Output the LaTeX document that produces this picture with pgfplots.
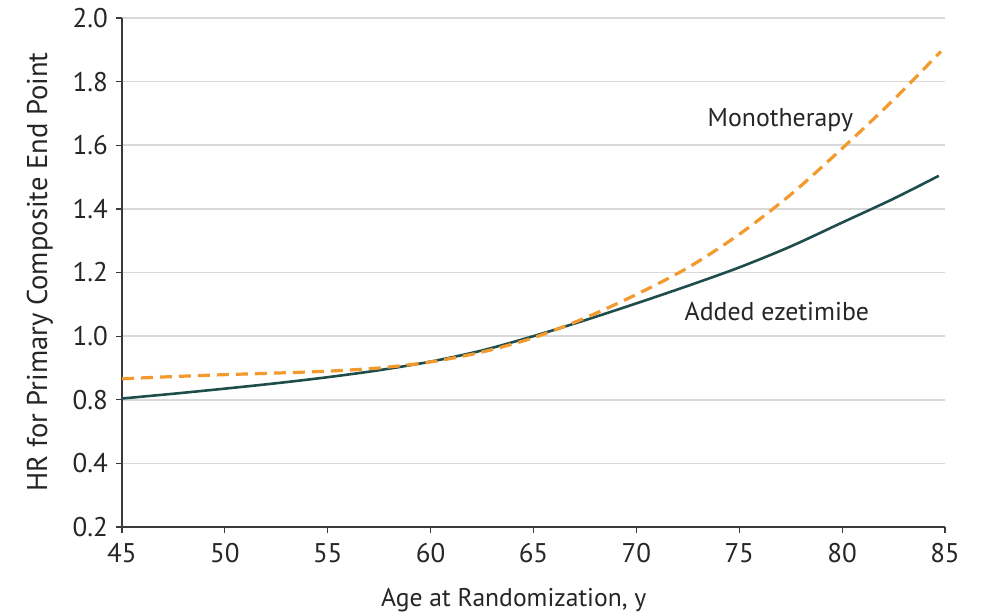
\documentclass[border=0pt]{standalone}
\usepackage{pgfplots}
\pgfplotsset{compat=1.18}
\usepackage{fontspec}
\setmainfont{PT Sans}
\definecolor{mono}{HTML}{F39A2E}
\definecolor{ezet}{HTML}{1E4D4B}
\definecolor{axgray}{HTML}{3A3A3A}
\begin{document}
\begin{tikzpicture}
\begin{axis}[
  scale only axis,
  width=411.5pt, height=254.5pt,
  xmin=45, xmax=85, ymin=0.4, ymax=2.0,
  xtick={45,50,...,85},
  ytick={0.4,0.6,0.8,1.0,1.2,1.4,1.6,1.8,2.0},
  yticklabels={0.2,0.4,0.8,1.0,1.2,1.4,1.6,1.8,2.0},
  axis x line*=bottom, axis y line*=left,
  axis line style={axgray, line width=0.6pt, -},
  tick align=outside, major tick length=3pt,
  tick style={axgray, line width=0.6pt},
  ymajorgrids, grid style={gray!30, line width=0.8pt},
  /pgf/number format/assume math mode=true,
  tick label style={font=\fontsize{13.5}{15}\selectfont, text=black!85},
  yticklabel style={xshift=-0.5pt},
  xticklabel style={yshift=-1.5pt},
  xlabel={Age at Randomization, y},
  ylabel={HR for Primary Composite End Point},
  xlabel style={font=\fontsize{12.8}{14}\selectfont, text=black!85, at={(rel axis cs:0.476,-0.143)}, anchor=center},
  ylabel style={font=\fontsize{14.3}{16}\selectfont, text=black!85, at={(rel axis cs:-0.0996,0.501)}, anchor=center},
  clip=false,
]
\addplot[ezet, line width=1.3pt, smooth] coordinates {
 (45,0.804) (47.5,0.819) (50,0.835) (52.5,0.852) (55,0.871) (57.5,0.893)
 (60,0.920) (62.5,0.955) (65,1.000) (67.5,1.050) (70,1.103) (72.5,1.158)
 (75,1.216) (77.5,1.282) (80,1.357) (82.5,1.432) (84.7,1.504)};
\addplot[mono, line width=1.6pt, dash pattern=on 6pt off 3.5pt, smooth] coordinates {
 (45,0.866) (47.5,0.873) (50,0.879) (52.5,0.884) (55,0.890) (57.5,0.900)
 (60,0.919) (62.5,0.950) (65,0.995) (67.5,1.057) (70,1.131) (72.5,1.215)
 (75,1.320) (77.5,1.445) (80,1.590) (82.5,1.743) (84.8,1.895)};
\node[font=\fontsize{12.9}{14}\selectfont, text=black!85] at (axis cs:77.0,1.68) {Monotherapy};
\node[font=\fontsize{12.9}{14}\selectfont, text=black!85] at (axis cs:76.83,1.079) {Added ezetimibe};
\coordinate (bl) at (rel axis cs:-0.1482,-0.169);
\coordinate (tr) at (rel axis cs:1.045,1.0354);
\end{axis}
\pgfresetboundingbox
\path (bl) rectangle (tr);
\end{tikzpicture}
\end{document}
